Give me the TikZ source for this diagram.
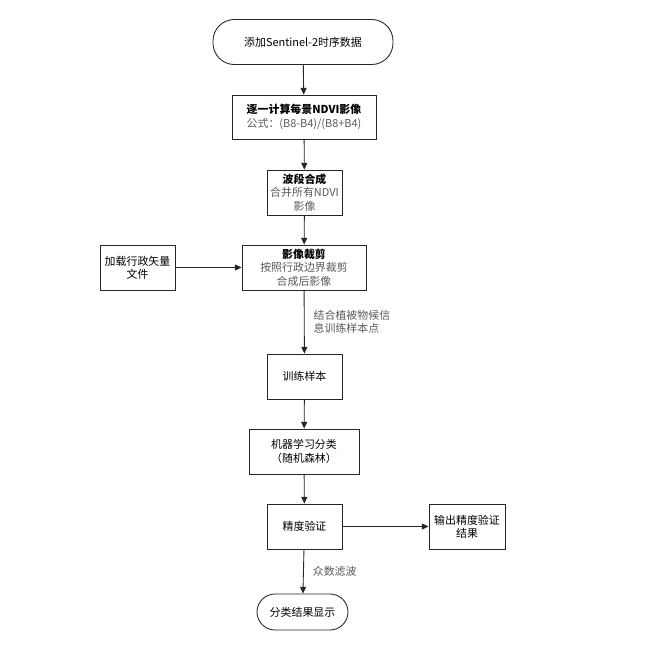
\documentclass[tikz,border=0pt]{standalone}
\usepackage{fontspec}
\setmainfont{Noto Sans CJK SC}
\usetikzlibrary{arrows.meta}

\begin{document}
\begin{tikzpicture}[
        x=0.75pt, y=-0.75pt,
        font=\fontsize{8.2}{10}\selectfont,
        flowTerm/.style={rectangle, draw=black!85, line width=0.65pt, rounded corners=16pt, align=center, inner sep=0pt},
        flowBox/.style={rectangle, draw=black!85, line width=0.65pt, align=center, inner sep=0pt, minimum width=56.25pt, minimum height=33.75pt},
        edgeLabel/.style={right, align=left, text=black!65, inner sep=0pt, xshift=6.75pt},
        line/.style={draw=black!85, line width=0.65pt, -{Triangle[length=5pt, width=4.5pt]}}
    ]
        \useasboundingbox (0,0) rectangle (648,654);

        \node[flowTerm, minimum width=135pt, minimum height=33.75pt] (start) at (303, 42) {添加Sentinel-2时序数据};
        \node[flowBox, minimum width=108pt, minimum height=33pt] (ndvi) at (304, 117) {\textbf{逐一计算每景NDVI影像}\\\textcolor{black!65}{公式：(B8-B4)/(B8+B4)}};
        \node[flowBox] (stack) at (304.5, 192.5) {\textbf{波段合成}\\\textcolor{black!65}{合并所有NDVI}\\\textcolor{black!65}{影像}};
        \node[flowBox, minimum width=93pt] (clip) at (304, 267.5) {\textbf{影像裁剪}\\\textcolor{black!65}{按照行政边界裁剪}\\\textcolor{black!65}{合成后影像}};
        \node[flowBox] (vector) at (137.5, 267.5) {加载行政矢量\\文件};
        \node[flowBox] (samples) at (304.5, 376.5) {训练样本};
        \node[flowBox, minimum width=82.5pt] (classify) at (304, 451.5) {机器学习分类\\（随机森林）};
        \node[flowBox] (accuracy) at (304.5, 526.5) {精度验证};
        \node[flowBox, minimum width=57pt] (report) at (467, 526.5) {输出精度验证\\结果};
        \node[flowTerm, rounded corners=13.5pt, minimum width=68.25pt, minimum height=27pt] (result) at (302.5, 612) {分类结果显示};

        \draw[line] (start) -- (ndvi);
        \draw[line] (ndvi) -- (stack);
        \draw[line] (stack) -- (clip);
        \draw[line] (vector) -- (clip);
        \draw[line] (clip) -- node[edgeLabel] {结合植被物候信\\息训练样本点} (samples);
        \draw[line] (samples) -- (classify);
        \draw[line] (classify) -- (accuracy);
        \draw[line] (accuracy) -- (report);
        \draw[line] (accuracy) -- node[edgeLabel] {众数滤波} (result);
    \end{tikzpicture}
\end{document}
